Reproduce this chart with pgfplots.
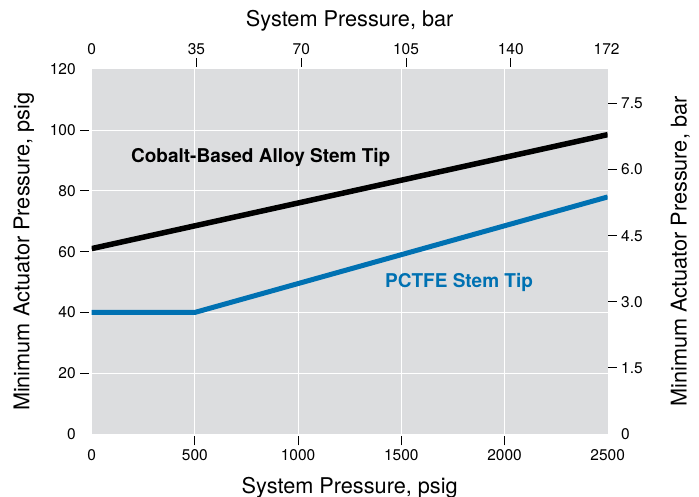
\documentclass[border=0pt]{standalone}
\usepackage{pgfplots}
\pgfplotsset{compat=1.18}
\usepackage{fontspec}
\setmainfont{TeX Gyre Heros}
\definecolor{bggray}{HTML}{DCDDDF}
\definecolor{tipblue}{HTML}{0071B2}
\begin{document}
\begin{tikzpicture}
\pgfplotsset{
  every axis/.append style={
    width=516pt, height=364.7pt, scale only axis,
    axis line style={draw=none},
    tick align=outside,
    major tick length=9pt,
    tick style={black, line width=0.9pt},
    tick label style={font=\fontsize{15.5}{18}\selectfont},
    label style={font=\fontsize{21.7}{26}\selectfont},
    /pgf/number format/assume math mode=true,
    /pgf/number format/1000 sep={},
    extra tick style={major tick style={draw=none}, grid=none},
  },
}
% psig axes
\begin{axis}[
    name=main,
    xmin=0, xmax=2500, ymin=0, ymax=120,
    axis background/.style={fill=bggray},
    xtick={500,1000,1500,2000},
    ytick={20,40,60,80,100},
    extra x ticks={0,2500},
    extra y ticks={0,120},
    xtick pos=bottom, ytick pos=left,
    x tick style={yshift=-2.5pt},
    y tick style={xshift=-2.5pt},
    xticklabel style={yshift=-2.5pt},
    yticklabel style={xshift=-3.5pt},
    grid=major,
    major grid style={white, line width=1pt},
    xlabel={System Pressure, psig},
    ylabel={Minimum Actuator Pressure, psig},
    xlabel style={at={(axis description cs:0.5,-0.1618)}, anchor=base},
    ylabel style={at={(axis description cs:-0.1209,0.5)}, anchor=base},
  ]
  \addplot[black, line width=5.5pt] coordinates {(0,61) (2500,98.5)};
  \addplot[tipblue, line width=5pt] coordinates {(0,40) (500,40) (2500,78)};
  \node[font=\fontsize{19}{22}\selectfont\bfseries, anchor=base] at (axis cs:819,89.4) {Cobalt-Based Alloy Stem Tip};
  \node[font=\fontsize{19}{22}\selectfont\bfseries, text=tipblue, anchor=base] at (axis cs:1780,48.1) {PCTFE Stem Tip};
\end{axis}
% bar axes
\begin{axis}[
    at={(main.south west)}, anchor=south west,
    xmin=0, xmax=172.369, ymin=0, ymax=8.2737,
    xtick={35,70,105,140},
    ytick={1.5,3.0,4.5,6.0,7.5},
    extra x ticks={0,172},
    extra y ticks={0},
    extra y tick labels={0},
    xtick pos=top, ytick pos=right,
    x tick style={yshift=2.5pt},
    xticklabel style={yshift=2.5pt},
    yticklabel style={xshift=1pt, /pgf/number format/fixed, /pgf/number format/fixed zerofill, /pgf/number format/precision=1},
    xlabel={System Pressure, bar},
    ylabel={Minimum Actuator Pressure, bar},
    xlabel style={at={(axis description cs:0.5,1.1168)}, anchor=base},
    ylabel style={at={(axis description cs:1.1531,0.5)}, anchor=base},
  ]
\end{axis}
\pgfresetboundingbox
\path ([shift={(-91.7pt,-63pt)}]main.south west) rectangle ([shift={(91.3pt,69.3pt)}]main.north east);
\end{tikzpicture}
\end{document}
